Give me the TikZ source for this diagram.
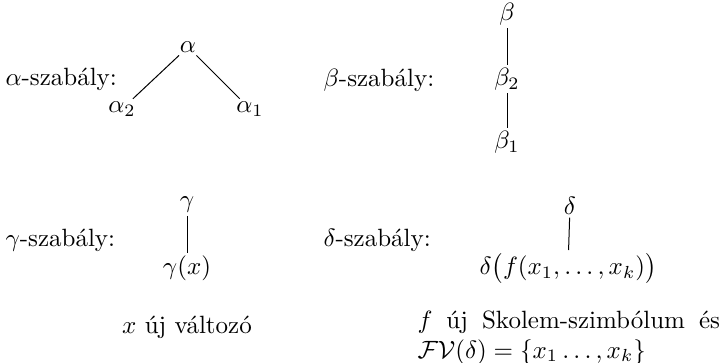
\documentclass[tikz,border=0pt]{standalone}
\usepackage{amsmath}
\usepackage{amssymb}
\usepackage{tikz}
\usetikzlibrary{positioning}
\tikzset{
  rulelbl/.style={anchor=west, inner sep=0pt, font=\normalsize},
  frm/.style    ={inner sep=1pt, font=\normalsize},
  note/.style   ={inner sep=0pt, align=left, font=\normalsize},
  link/.style   ={draw=black, line width=0.4pt},
}

\begin{document}
\begin{tikzpicture}[x=0.4pt, y=-0.4pt]
  \useasboundingbox (0,0) rectangle (721,362);
  \node[rulelbl] (ra) at (5,79)   {$\alpha$-szabály:};
  \node[rulelbl] (rb) at (323,80) {$\beta$-szabály:};
  \node[rulelbl] (rg) at (5,240)  {$\gamma$-szabály:};
  \node[rulelbl] (rd) at (323,240){$\delta$-szabály:};
  \node[frm] (alpha)  at (188,47)  {$\alpha$};
  \node[frm] (alpha2) at (122,109) {$\alpha_2$};
  \node[frm] (alpha1) at (250,109) {$\alpha_1$};
  \node[frm] (beta)   at (507,14)  {$\beta$};
  \node[frm] (beta2)  at (507,79)  {$\beta_2$};
  \node[frm] (beta1)  at (507,142) {$\beta_1$};
  \node[frm] (gamma)  at (187,205) {$\gamma$};
  \node[frm] (gammax) at (187,268) {$\gamma(x)$};
  \node[frm] (delta)  at (570,206) {$\delta$};
  \node[frm] (deltaf) at (568,268) {$\delta\bigl(f(x_1,\ldots,x_k)\bigr)$};
  \node[note] (newvar) at (187,327) {$x$ új változó};
  \node[note, anchor=north west] (skolem) at (417,310)
    {\makebox[121pt][s]{$f$ új Skolem-szimbólum és}\\
     $\mathcal{FV}(\delta)=\{x_1\ldots,x_k\}$};
  \draw[link] (alpha) -- (alpha2);
  \draw[link] (alpha) -- (alpha1);
  \draw[link] (beta) -- (beta2);
  \draw[link] (beta2) -- (beta1);
  \draw[link] (gamma) -- (gammax);
  \draw[link] (delta) -- (deltaf);
\end{tikzpicture}
\end{document}
